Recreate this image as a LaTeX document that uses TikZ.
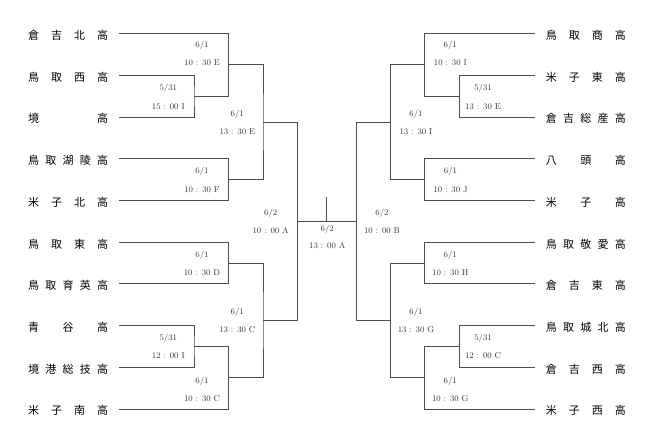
\documentclass[tikz,border=0pt]{standalone}
\usepackage{fontspec}
\newfontfamily\jpfont{Noto Sans CJK JP}
\begin{document}
\begin{tikzpicture}[x=1pt, y=-1pt,
  line/.style={draw=black!70, line width=0.7pt},
  team/.style={inner sep=0pt, font=\jpfont\fontsize{11}{13}\selectfont},
  info/.style={inner sep=0pt, align=center, text=black!80, font=\fontsize{8.5}{18.4}\selectfont}]
\useasboundingbox (0,0) rectangle (654,443);

% Team names
\foreach \name [count=\i] in {倉\hfil 吉\hfil 北\hfil 高, 鳥\hfil 取\hfil 西\hfil 高, 境\hfil 高,
  鳥\hfil 取\hfil 湖\hfil 陵\hfil 高, 米\hfil 子\hfil 北\hfil 高, 鳥\hfil 取\hfil 東\hfil 高,
  鳥\hfil 取\hfil 育\hfil 英\hfil 高, 青\hfil 谷\hfil 高, 境\hfil 港\hfil 総\hfil 技\hfil 高,
  米\hfil 子\hfil 南\hfil 高}
  \node[team, anchor=east] (l\i) at (108.3, {35.3+41.72*(\i-1)}) {\hbox to 80pt{\name}};
\foreach \name [count=\i] in {鳥\hfil 取\hfil 商\hfil 高, 米\hfil 子\hfil 東\hfil 高,
  倉\hfil 吉\hfil 総\hfil 産\hfil 高, 八\hfil 頭\hfil 高, 米\hfil 子\hfil 高,
  鳥\hfil 取\hfil 敬\hfil 愛\hfil 高, 倉\hfil 吉\hfil 東\hfil 高, 鳥\hfil 取\hfil 城\hfil 北\hfil 高,
  倉\hfil 吉\hfil 西\hfil 高, 米\hfil 子\hfil 西\hfil 高}
  \node[team, anchor=west] (r\i) at (545.7, {35.3+41.72*(\i-1)}) {\hbox to 80pt{\name}};

% Line ends beside the names
\foreach \i in {1,...,10} {
  \coordinate (a\i) at (119, {33.5+41.72*(\i-1)});
  \coordinate (b\i) at (534.7, {33.5+41.72*(\i-1)});
}

% Match points, left half
\coordinate (L1a) at (194, 96.1);
\coordinate (L1) at (228.7, 64.8);
\coordinate (L2) at (228.7, 179.5);
\coordinate (L3) at (263, 122.2);
\coordinate (L4) at (228.7, 263.0);
\coordinate (L5a) at (194, 346.4);
\coordinate (L5) at (228.7, 377.7);
\coordinate (L6) at (263, 320.3);
\coordinate (L7) at (297.5, 221.2);

% Match points, right half
\coordinate (R1a) at (459.3, 96.1);
\coordinate (R1) at (424.7, 64.8);
\coordinate (R2) at (424.7, 179.5);
\coordinate (R3) at (390.6, 122.2);
\coordinate (R4) at (424.7, 263.0);
\coordinate (R5a) at (459.3, 346.4);
\coordinate (R5) at (424.7, 377.7);
\coordinate (R6) at (390.6, 320.3);
\coordinate (R7) at (356.2, 221.2);

% Final
\coordinate (F) at (326.8, 221.2);
\coordinate (Ftop) at (326.8, 197);

% Brackets
\draw[line] (a2) -| (L1a) |- (a3);
\draw[line] (a1) -| (L1) |- (L1a);
\draw[line] (a4) -| (L2) |- (a5);
\draw[line] (L1) -| (L3) |- (L2);
\draw[line] (a6) -| (L4) |- (a7);
\draw[line] (a8) -| (L5a) |- (a9);
\draw[line] (L5a) -| (L5) |- (a10);
\draw[line] (L4) -| (L6) |- (L5);
\draw[line] (L3) -| (L7) |- (L6);

\draw[line] (b2) -| (R1a) |- (b3);
\draw[line] (b1) -| (R1) |- (R1a);
\draw[line] (b4) -| (R2) |- (b5);
\draw[line] (R1) -| (R3) |- (R2);
\draw[line] (b6) -| (R4) |- (b7);
\draw[line] (b8) -| (R5a) |- (b9);
\draw[line] (R5a) -| (R5) |- (b10);
\draw[line] (R4) -| (R6) |- (R5);
\draw[line] (R3) -| (R7) |- (R6);

\draw[line] (L7) -- (R7);
\draw[line] (Ftop) -- (F);

% Dates and times
\node[info] (L1t) at (202, 53.5) {6/1\\10 : 30 E};
\node[info] (L1at) at (168.3, 96.9) {5/31\\15 : 00 I};
\node[info] (L3t) at (237.3, 122.5) {6/1\\13 : 30 E};
\node[info] (L2t) at (202, 179.9) {6/1\\10 : 30 F};
\node[info] (L7t) at (270.7, 221.2) {6/2\\10 : 00 A};
\node[info] (L4t) at (202, 263.5) {6/1\\10 : 30 D};
\node[info] (L6t) at (237.3, 320.4) {6/1\\13 : 30 C};
\node[info] (L5at) at (168.3, 346.5) {5/31\\12 : 00 I};
\node[info] (L5t) at (202, 389.3) {6/1\\10 : 30 C};

\node[info] (R1t) at (450.3, 53.5) {6/1\\10 : 30 I};
\node[info] (R1at) at (483, 96.9) {5/31\\13 : 30 E};
\node[info] (R3t) at (416, 122.5) {6/1\\13 : 30 I};
\node[info] (R2t) at (450.5, 179.9) {6/1\\10 : 30 J};
\node[info] (R7t) at (382, 221.2) {6/2\\10 : 00 B};
\node[info] (R4t) at (450.3, 263.5) {6/1\\10 : 30 H};
\node[info] (R6t) at (416, 320.4) {6/1\\13 : 30 G};
\node[info] (R5at) at (483, 346.5) {5/31\\12 : 00 C};
\node[info] (R5t) at (450.3, 389.3) {6/1\\10 : 30 G};

\node[info, font=\fontsize{8.5}{17}\selectfont] (Ft) at (327.3, 237.2) {6/2\\13 : 00 A};
\end{tikzpicture}
\end{document}
